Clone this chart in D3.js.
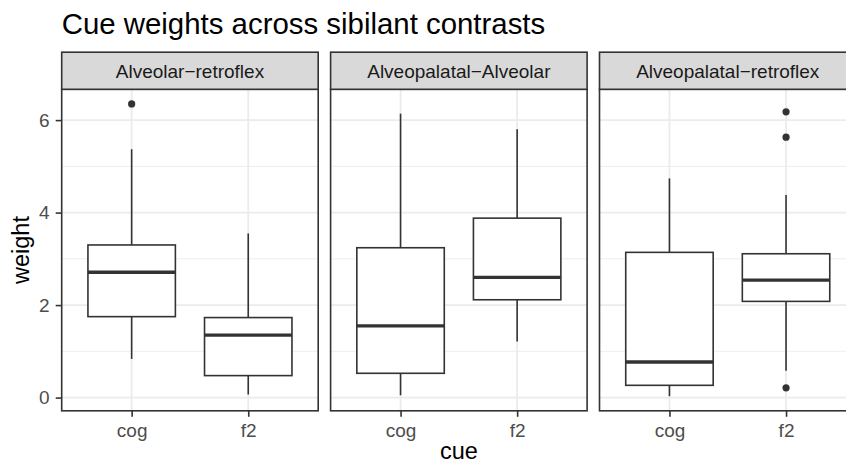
<!DOCTYPE html>
<html>
<head>
<meta charset="utf-8">
<script src="https://cdn.jsdelivr.net/npm/d3@7"></script>
<style>
  html, body { margin: 0; padding: 0; background: #fff; overflow: hidden; }
  svg { display: block; overflow: hidden; }
  text { font-family: "Liberation Sans", Arial, Helvetica, sans-serif; }
</style>
</head>
<body>
<svg id="chart" width="846" height="464"></svg>
<script>
// ---------- data ----------
const facets = ["Alveolar\u2212retroflex", "Alveopalatal\u2212Alveolar", "Alveopalatal\u2212retroflex"];
const cues = ["cog", "f2"];
// five-number summaries per facet: [lower whisker, Q1, median, Q3, upper whisker]
const statsAlveolarRetroflex = [[0.835, 1.75, 2.71, 3.30, 5.37], [0.065, 0.475, 1.35, 1.73, 3.55]];
const statsAlveopalatalAlveolar = [[0.05, 0.525, 1.55, 3.24, 6.14], [1.21, 2.115, 2.60, 3.88, 5.80]];
const statsAlveopalatalRetroflex = [[0.03, 0.265, 0.77, 3.14, 4.74], [0.58, 2.08, 2.54, 3.11, 4.38]];
const outliersAlveolarRetroflex = [[6.35], []];
const outliersAlveopalatalAlveolar = [[], []];
const outliersAlveopalatalRetroflex = [[], [6.18, 5.63, 0.21]];
const yTicks = [0, 2, 4, 6];
const yMinorTicks = [1, 3, 5];
const titleText = "Cue weights across sibilant contrasts";
const xTitle = "cue";
const yTitle = "weight";

const allStats = [statsAlveolarRetroflex, statsAlveopalatalAlveolar, statsAlveopalatalRetroflex];
const allOutliers = [outliersAlveolarRetroflex, outliersAlveopalatalAlveolar, outliersAlveopalatalRetroflex];

// ---------- layout ----------
const svg = d3.select("#chart");
const panelTop = 89.3, panelBottom = 410.8;
const panelLeft = 61.7, panelW = 256.5, panelGap = 12.4;
const stripTop = 52.2;
const totalW = 3 * panelW + 2 * panelGap;

const fx = d3.scaleBand().domain(facets)
  .range([panelLeft, panelLeft + totalW])
  .paddingInner(panelGap / (panelW + panelGap)).paddingOuter(0);
const x = d3.scalePoint().domain(cues).range([0, fx.bandwidth()]).padding(0.6);
const boxW = 0.75 * x.step();

// y domain with ggplot-like 5% expansion of data range
const allVals = [];
allStats.forEach(f => f.forEach(s => allVals.push(...s)));
allOutliers.forEach(f => f.forEach(o => allVals.push(...o)));
const yMin = d3.min(allVals), yMax = d3.max(allVals), yR = yMax - yMin;
const y = d3.scaleLinear().domain([yMin - 0.05 * yR, yMax + 0.05 * yR]).range([panelBottom, panelTop]);

const grid = "#EBEBEB", dark = "#333333";

// title
svg.append("text").attr("x", panelLeft).attr("y", 34)
  .attr("font-size", 29.4).attr("fill", "#000").text(titleText);

facets.forEach((fname, i) => {
  const g = svg.append("g").attr("transform", `translate(${fx(fname)},0)`);
  const w = fx.bandwidth();
  // panel background
  g.append("rect").attr("x", 0).attr("y", panelTop).attr("width", w).attr("height", panelBottom - panelTop).attr("fill", "#fff");
  // minor gridlines
  g.selectAll(".ymin").data(yMinorTicks).enter().append("line")
    .attr("x1", 0).attr("x2", w).attr("y1", d => y(d)).attr("y2", d => y(d))
    .attr("stroke", grid).attr("stroke-width", 0.9);
  // major gridlines
  g.selectAll(".ymaj").data(yTicks).enter().append("line")
    .attr("x1", 0).attr("x2", w).attr("y1", d => y(d)).attr("y2", d => y(d))
    .attr("stroke", grid).attr("stroke-width", 1.8);
  g.selectAll(".xmaj").data(cues).enter().append("line")
    .attr("x1", d => x(d)).attr("x2", d => x(d)).attr("y1", panelTop).attr("y2", panelBottom)
    .attr("stroke", grid).attr("stroke-width", 1.8);

  // boxes
  cues.forEach((c, j) => {
    const s = allStats[i][j];
    const cx = x(c);
    g.append("line").attr("x1", cx).attr("x2", cx).attr("y1", y(s[3])).attr("y2", y(s[4]))
      .attr("stroke", dark).attr("stroke-width", 1.6);
    g.append("line").attr("x1", cx).attr("x2", cx).attr("y1", y(s[1])).attr("y2", y(s[0]))
      .attr("stroke", dark).attr("stroke-width", 1.6);
    g.append("rect").attr("x", cx - boxW / 2).attr("width", boxW)
      .attr("y", y(s[3])).attr("height", y(s[1]) - y(s[3]))
      .attr("fill", "#fff").attr("stroke", dark).attr("stroke-width", 1.6);
    g.append("line").attr("x1", cx - boxW / 2).attr("x2", cx + boxW / 2)
      .attr("y1", y(s[2])).attr("y2", y(s[2]))
      .attr("stroke", dark).attr("stroke-width", 3.4);
    g.selectAll(null).data(allOutliers[i][j]).enter().append("circle")
      .attr("cx", cx).attr("cy", d => y(d)).attr("r", 3.6).attr("fill", dark);
  });

  // panel border
  g.append("rect").attr("x", 0).attr("y", panelTop).attr("width", w).attr("height", panelBottom - panelTop)
    .attr("fill", "none").attr("stroke", dark).attr("stroke-width", 1.6);
  // strip
  g.append("rect").attr("x", 0).attr("y", stripTop).attr("width", w).attr("height", panelTop - stripTop)
    .attr("fill", "#D9D9D9").attr("stroke", dark).attr("stroke-width", 1.6);
  g.append("text").attr("x", w / 2).attr("y", 77.6).attr("text-anchor", "middle")
    .attr("font-size", 19).attr("fill", "#1A1A1A").text(fname);

  // x axis
  const xa = g.append("g").attr("transform", `translate(0,${panelBottom})`)
    .call(d3.axisBottom(x).tickSize(6).tickPadding(7));
  xa.select(".domain").remove();
  xa.selectAll(".tick line").attr("stroke", dark).attr("stroke-width", 1.6);
  xa.selectAll(".tick text").attr("font-size", 19).attr("fill", "#4D4D4D")
    .attr("font-family", "Liberation Sans, Arial, sans-serif");

  if (i === 0) {
    const ya = g.append("g").call(d3.axisLeft(y).tickValues(yTicks).tickFormat(d3.format("d")).tickSize(6).tickPadding(6));
    ya.select(".domain").remove();
    ya.selectAll(".tick line").attr("stroke", dark).attr("stroke-width", 1.6);
    ya.selectAll(".tick text").attr("font-size", 19).attr("fill", "#4D4D4D")
      .attr("font-family", "Liberation Sans, Arial, sans-serif");
  }
});

// axis titles
svg.append("text").attr("x", panelLeft + totalW / 2).attr("y", 459)
  .attr("text-anchor", "middle").attr("font-size", 23.5).attr("fill", "#000").text(xTitle);
svg.append("text").attr("transform", `translate(29,${(panelTop + panelBottom) / 2}) rotate(-90)`)
  .attr("text-anchor", "middle").attr("font-size", 23.5).attr("fill", "#000").text(yTitle);
</script>
</body>
</html>
